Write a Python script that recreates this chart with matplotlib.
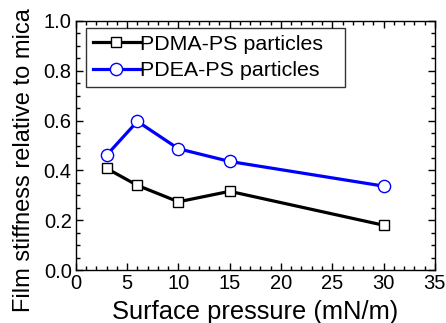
import matplotlib
matplotlib.use("Agg")
import matplotlib.pyplot as plt
from matplotlib.ticker import MultipleLocator

plt.rcParams['font.family'] = ['Liberation Sans', 'DejaVu Sans']

pressure = [3, 6, 10, 15, 30]
pdma_ps = [0.408, 0.340, 0.274, 0.316, 0.180]
pdea_ps = [0.461, 0.597, 0.487, 0.436, 0.337]
labels = ["PDMA-PS particles", "PDEA-PS particles"]

fig = plt.figure(figsize=(4.46, 3.23), dpi=100)
ax = fig.add_axes([0.170, 0.164, 0.805, 0.771])

ax.plot(pressure, pdma_ps, color='black', lw=2.3, marker='s', ms=7.5,
        mfc='white', mec='black', mew=1.0, label=labels[0])
ax.plot(pressure, pdea_ps, color='#0000ff', lw=2.3, marker='o', ms=8.8,
        mfc='white', mec='#0000ff', mew=1.0, label=labels[1])

ax.set_xlim(0, 35)
ax.set_ylim(0, 1.0)
ax.xaxis.set_major_locator(MultipleLocator(5))
ax.xaxis.set_minor_locator(MultipleLocator(1))
ax.yaxis.set_major_locator(MultipleLocator(0.2))
ax.yaxis.set_minor_locator(MultipleLocator(0.05))
ax.yaxis.set_major_formatter(matplotlib.ticker.FormatStrFormatter('%.1f'))
ax.tick_params(which='both', direction='in', top=True, right=True, width=1.0)
ax.tick_params(which='major', length=5, labelsize=14.5, pad=3)
ax.tick_params(which='minor', length=3)
for s in ax.spines.values():
    s.set_linewidth(1.0)

ax.set_xlabel("Surface pressure (mN/m)", fontsize=18.4)
ax.xaxis.set_label_coords(0.5, -0.122)
ax.set_ylabel("Film stiffness relative to mica", fontsize=17)
ax.yaxis.set_label_coords(-0.114, 0.44)

leg = ax.legend(loc='upper left', bbox_to_anchor=(0.028, 0.5, 0.721, 0.472),
                mode='expand', fontsize=15.4,
                frameon=True, fancybox=False, edgecolor='black',
                handlelength=2.2, handletextpad=0.0, borderpad=0.32,
                labelspacing=0.34, borderaxespad=0)
leg.get_frame().set_linewidth(1.0)

fig.savefig("out.png", dpi=100)
